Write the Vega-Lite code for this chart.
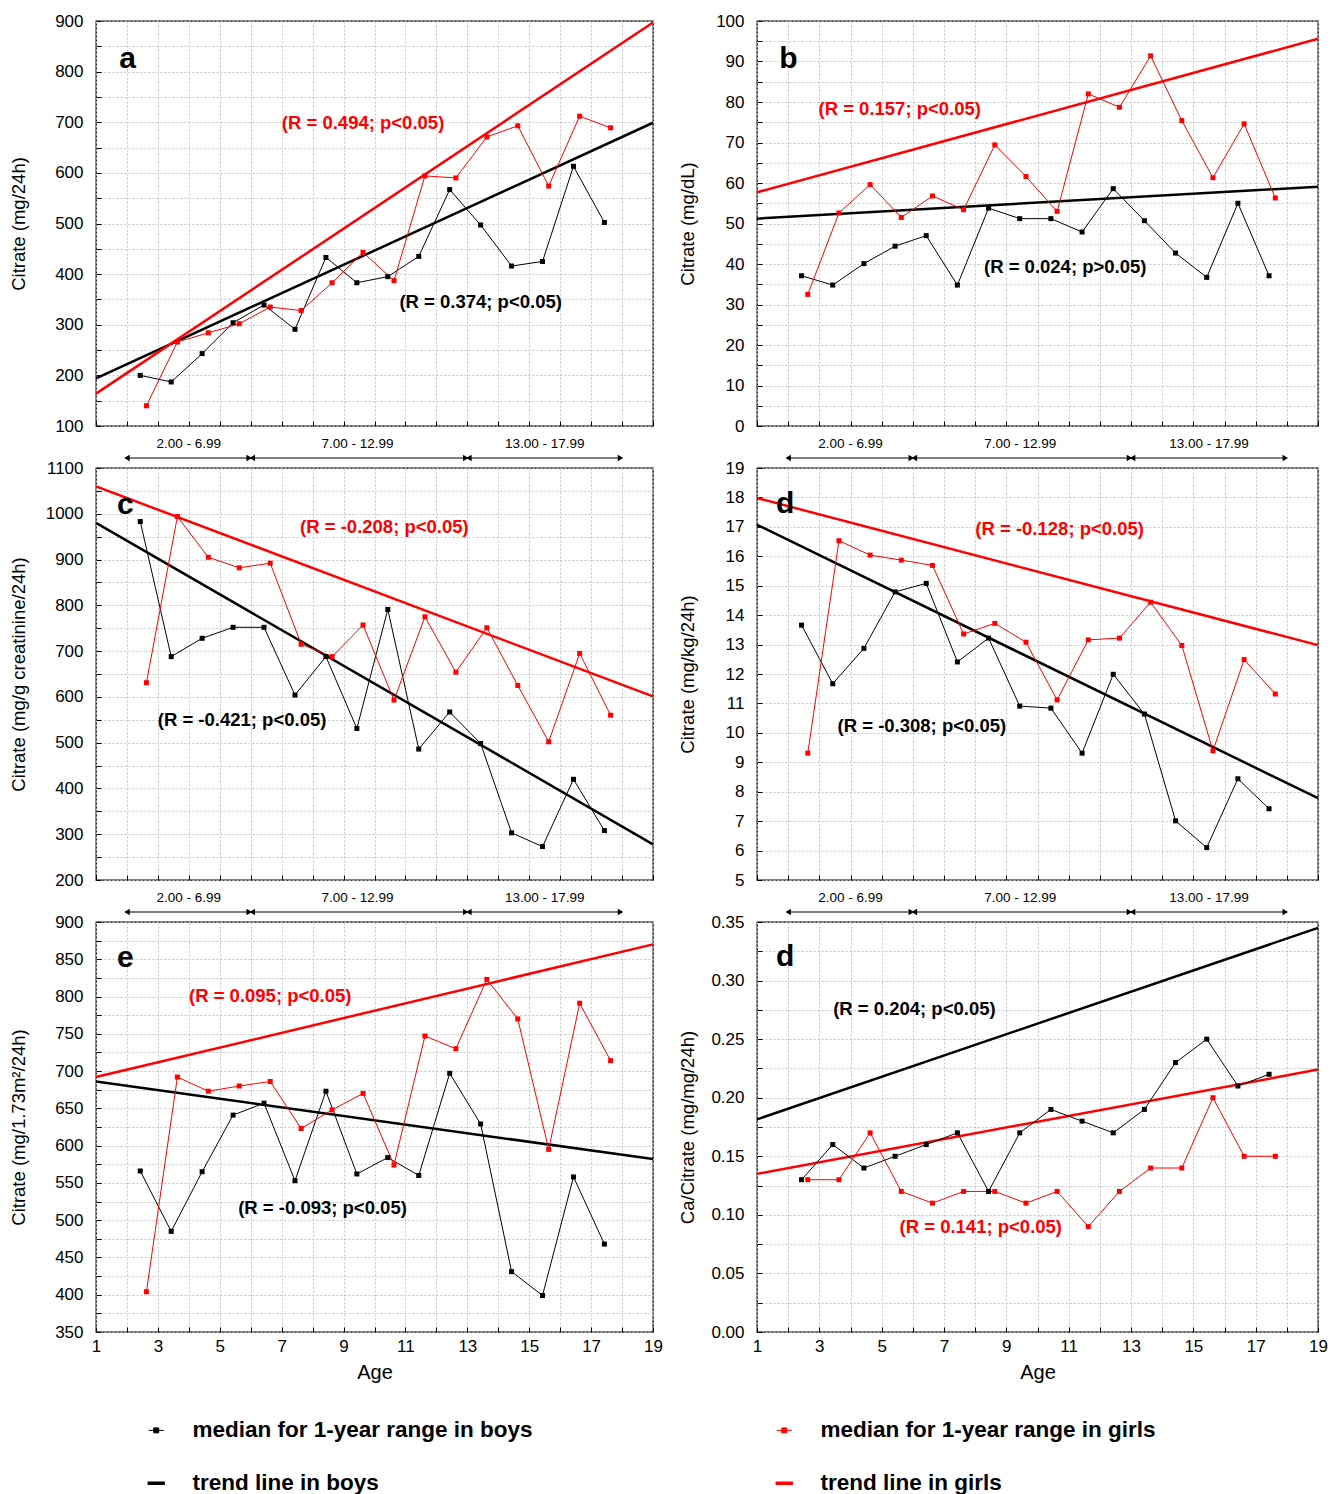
{
"$schema": "https://vega.github.io/schema/vega-lite/v6.json",
"padding": {"left": 8, "top": 11, "right": 5, "bottom": 0},
"background": "white",
"columns": 2,
"spacing": {"row": 42, "column": 104},
"bounds": "flush",
"align": "each",
"datasets": {
"med": [
{"p":"a","s":"mb","x":2.43,"y":200},{"p":"a","s":"mb","x":3.43,"y":187},{"p":"a","s":"mb","x":4.43,"y":243},{"p":"a","s":"mb","x":5.43,"y":304},{"p":"a","s":"mb","x":6.43,"y":339},{"p":"a","s":"mb","x":7.43,"y":291},{"p":"a","s":"mb","x":8.43,"y":433},{"p":"a","s":"mb","x":9.43,"y":383},{"p":"a","s":"mb","x":10.43,"y":395},{"p":"a","s":"mb","x":11.43,"y":435},{"p":"a","s":"mb","x":12.43,"y":567},{"p":"a","s":"mb","x":13.43,"y":497},{"p":"a","s":"mb","x":14.43,"y":416},{"p":"a","s":"mb","x":15.43,"y":425},{"p":"a","s":"mb","x":16.43,"y":613},{"p":"a","s":"mb","x":17.43,"y":502},
{"p":"a","s":"mg","x":2.63,"y":140},{"p":"a","s":"mg","x":3.63,"y":266},{"p":"a","s":"mg","x":4.63,"y":284},{"p":"a","s":"mg","x":5.63,"y":302},{"p":"a","s":"mg","x":6.63,"y":335},{"p":"a","s":"mg","x":7.63,"y":328},{"p":"a","s":"mg","x":8.63,"y":383},{"p":"a","s":"mg","x":9.63,"y":443},{"p":"a","s":"mg","x":10.63,"y":387},{"p":"a","s":"mg","x":11.63,"y":594},{"p":"a","s":"mg","x":12.63,"y":590},{"p":"a","s":"mg","x":13.63,"y":671},{"p":"a","s":"mg","x":14.63,"y":693},{"p":"a","s":"mg","x":15.63,"y":574},{"p":"a","s":"mg","x":16.63,"y":712},{"p":"a","s":"mg","x":17.63,"y":689},
{"p":"b","s":"mb","x":2.43,"y":37.1},{"p":"b","s":"mb","x":3.43,"y":34.8},{"p":"b","s":"mb","x":4.43,"y":40.1},{"p":"b","s":"mb","x":5.43,"y":44.4},{"p":"b","s":"mb","x":6.43,"y":47.0},{"p":"b","s":"mb","x":7.43,"y":34.8},{"p":"b","s":"mb","x":8.43,"y":53.8},{"p":"b","s":"mb","x":9.43,"y":51.2},{"p":"b","s":"mb","x":10.43,"y":51.2},{"p":"b","s":"mb","x":11.43,"y":47.9},{"p":"b","s":"mb","x":12.43,"y":58.6},{"p":"b","s":"mb","x":13.43,"y":50.7},{"p":"b","s":"mb","x":14.43,"y":42.7},{"p":"b","s":"mb","x":15.43,"y":36.7},{"p":"b","s":"mb","x":16.43,"y":55.0},{"p":"b","s":"mb","x":17.43,"y":37.1},
{"p":"b","s":"mg","x":2.63,"y":32.5},{"p":"b","s":"mg","x":3.63,"y":52.6},{"p":"b","s":"mg","x":4.63,"y":59.6},{"p":"b","s":"mg","x":5.63,"y":51.5},{"p":"b","s":"mg","x":6.63,"y":56.8},{"p":"b","s":"mg","x":7.63,"y":53.4},{"p":"b","s":"mg","x":8.63,"y":69.4},{"p":"b","s":"mg","x":9.63,"y":61.6},{"p":"b","s":"mg","x":10.63,"y":53.0},{"p":"b","s":"mg","x":11.63,"y":82.0},{"p":"b","s":"mg","x":12.63,"y":78.7},{"p":"b","s":"mg","x":13.63,"y":91.4},{"p":"b","s":"mg","x":14.63,"y":75.4},{"p":"b","s":"mg","x":15.63,"y":61.3},{"p":"b","s":"mg","x":16.63,"y":74.6},{"p":"b","s":"mg","x":17.63,"y":56.3},
{"p":"c","s":"mb","x":2.43,"y":983},{"p":"c","s":"mb","x":3.43,"y":688},{"p":"c","s":"mb","x":4.43,"y":728},{"p":"c","s":"mb","x":5.43,"y":752},{"p":"c","s":"mb","x":6.43,"y":752},{"p":"c","s":"mb","x":7.43,"y":604},{"p":"c","s":"mb","x":8.43,"y":688},{"p":"c","s":"mb","x":9.43,"y":531},{"p":"c","s":"mb","x":10.43,"y":791},{"p":"c","s":"mb","x":11.43,"y":486},{"p":"c","s":"mb","x":12.43,"y":567},{"p":"c","s":"mb","x":13.43,"y":498},{"p":"c","s":"mb","x":14.43,"y":303},{"p":"c","s":"mb","x":15.43,"y":273},{"p":"c","s":"mb","x":16.43,"y":420},{"p":"c","s":"mb","x":17.43,"y":308},
{"p":"c","s":"mg","x":2.63,"y":631},{"p":"c","s":"mg","x":3.63,"y":994},{"p":"c","s":"mg","x":4.63,"y":905},{"p":"c","s":"mg","x":5.63,"y":882},{"p":"c","s":"mg","x":6.63,"y":892},{"p":"c","s":"mg","x":7.63,"y":715},{"p":"c","s":"mg","x":8.63,"y":688},{"p":"c","s":"mg","x":9.63,"y":757},{"p":"c","s":"mg","x":10.63,"y":593},{"p":"c","s":"mg","x":11.63,"y":775},{"p":"c","s":"mg","x":12.63,"y":654},{"p":"c","s":"mg","x":13.63,"y":751},{"p":"c","s":"mg","x":14.63,"y":625},{"p":"c","s":"mg","x":15.63,"y":502},{"p":"c","s":"mg","x":16.63,"y":695},{"p":"c","s":"mg","x":17.63,"y":560},
{"p":"d","s":"mb","x":2.43,"y":13.66},{"p":"d","s":"mb","x":3.43,"y":11.67},{"p":"d","s":"mb","x":4.43,"y":12.87},{"p":"d","s":"mb","x":5.43,"y":14.79},{"p":"d","s":"mb","x":6.43,"y":15.08},{"p":"d","s":"mb","x":7.43,"y":12.41},{"p":"d","s":"mb","x":8.43,"y":13.22},{"p":"d","s":"mb","x":9.43,"y":10.91},{"p":"d","s":"mb","x":10.43,"y":10.84},{"p":"d","s":"mb","x":11.43,"y":9.31},{"p":"d","s":"mb","x":12.43,"y":11.99},{"p":"d","s":"mb","x":13.43,"y":10.64},{"p":"d","s":"mb","x":14.43,"y":7.01},{"p":"d","s":"mb","x":15.43,"y":6.10},{"p":"d","s":"mb","x":16.43,"y":8.44},{"p":"d","s":"mb","x":17.43,"y":7.42},
{"p":"d","s":"mg","x":2.63,"y":9.31},{"p":"d","s":"mg","x":3.63,"y":16.53},{"p":"d","s":"mg","x":4.63,"y":16.04},{"p":"d","s":"mg","x":5.63,"y":15.87},{"p":"d","s":"mg","x":6.63,"y":15.69},{"p":"d","s":"mg","x":7.63,"y":13.36},{"p":"d","s":"mg","x":8.63,"y":13.72},{"p":"d","s":"mg","x":9.63,"y":13.08},{"p":"d","s":"mg","x":10.63,"y":11.12},{"p":"d","s":"mg","x":11.63,"y":13.16},{"p":"d","s":"mg","x":12.63,"y":13.22},{"p":"d","s":"mg","x":13.63,"y":14.44},{"p":"d","s":"mg","x":14.63,"y":12.97},{"p":"d","s":"mg","x":15.63,"y":9.39},{"p":"d","s":"mg","x":16.63,"y":12.49},{"p":"d","s":"mg","x":17.63,"y":11.32},
{"p":"e","s":"mb","x":2.43,"y":566},{"p":"e","s":"mb","x":3.43,"y":485},{"p":"e","s":"mb","x":4.43,"y":565},{"p":"e","s":"mb","x":5.43,"y":641},{"p":"e","s":"mb","x":6.43,"y":657},{"p":"e","s":"mb","x":7.43,"y":553},{"p":"e","s":"mb","x":8.43,"y":673},{"p":"e","s":"mb","x":9.43,"y":562},{"p":"e","s":"mb","x":10.43,"y":584},{"p":"e","s":"mb","x":11.43,"y":560},{"p":"e","s":"mb","x":12.43,"y":697},{"p":"e","s":"mb","x":13.43,"y":629},{"p":"e","s":"mb","x":14.43,"y":431},{"p":"e","s":"mb","x":15.43,"y":399},{"p":"e","s":"mb","x":16.43,"y":558},{"p":"e","s":"mb","x":17.43,"y":468},
{"p":"e","s":"mg","x":2.63,"y":404},{"p":"e","s":"mg","x":3.63,"y":692},{"p":"e","s":"mg","x":4.63,"y":673},{"p":"e","s":"mg","x":5.63,"y":680},{"p":"e","s":"mg","x":6.63,"y":686},{"p":"e","s":"mg","x":7.63,"y":623},{"p":"e","s":"mg","x":8.63,"y":648},{"p":"e","s":"mg","x":9.63,"y":670},{"p":"e","s":"mg","x":10.63,"y":574},{"p":"e","s":"mg","x":11.63,"y":747},{"p":"e","s":"mg","x":12.63,"y":730},{"p":"e","s":"mg","x":13.63,"y":823},{"p":"e","s":"mg","x":14.63,"y":770},{"p":"e","s":"mg","x":15.63,"y":595},{"p":"e","s":"mg","x":16.63,"y":791},{"p":"e","s":"mg","x":17.63,"y":714},
{"p":"f","s":"mb","x":2.43,"y":0.13},{"p":"f","s":"mb","x":3.43,"y":0.16},{"p":"f","s":"mb","x":4.43,"y":0.14},{"p":"f","s":"mb","x":5.43,"y":0.15},{"p":"f","s":"mb","x":6.43,"y":0.16},{"p":"f","s":"mb","x":7.43,"y":0.17},{"p":"f","s":"mb","x":8.43,"y":0.12},{"p":"f","s":"mb","x":9.43,"y":0.17},{"p":"f","s":"mb","x":10.43,"y":0.19},{"p":"f","s":"mb","x":11.43,"y":0.18},{"p":"f","s":"mb","x":12.43,"y":0.17},{"p":"f","s":"mb","x":13.43,"y":0.19},{"p":"f","s":"mb","x":14.43,"y":0.23},{"p":"f","s":"mb","x":15.43,"y":0.25},{"p":"f","s":"mb","x":16.43,"y":0.21},{"p":"f","s":"mb","x":17.43,"y":0.22},
{"p":"f","s":"mg","x":2.63,"y":0.13},{"p":"f","s":"mg","x":3.63,"y":0.13},{"p":"f","s":"mg","x":4.63,"y":0.17},{"p":"f","s":"mg","x":5.63,"y":0.12},{"p":"f","s":"mg","x":6.63,"y":0.11},{"p":"f","s":"mg","x":7.63,"y":0.12},{"p":"f","s":"mg","x":8.63,"y":0.12},{"p":"f","s":"mg","x":9.63,"y":0.11},{"p":"f","s":"mg","x":10.63,"y":0.12},{"p":"f","s":"mg","x":11.63,"y":0.09},{"p":"f","s":"mg","x":12.63,"y":0.12},{"p":"f","s":"mg","x":13.63,"y":0.14},{"p":"f","s":"mg","x":14.63,"y":0.14},{"p":"f","s":"mg","x":15.63,"y":0.20},{"p":"f","s":"mg","x":16.63,"y":0.15},{"p":"f","s":"mg","x":17.63,"y":0.15}
],
"trend": [
{"p":"a","s":"tb","x":1,"y":194},{"p":"a","s":"tb","x":19,"y":699},{"p":"a","s":"tg","x":1,"y":164},{"p":"a","s":"tg","x":19,"y":897},
{"p":"b","s":"tb","x":1,"y":51.2},{"p":"b","s":"tb","x":19,"y":59.1},{"p":"b","s":"tg","x":1,"y":57.7},{"p":"b","s":"tg","x":19,"y":95.6},
{"p":"c","s":"tb","x":1,"y":980},{"p":"c","s":"tb","x":19,"y":278},{"p":"c","s":"tg","x":1,"y":1060},{"p":"c","s":"tg","x":19,"y":601},
{"p":"d","s":"tb","x":1,"y":17.07},{"p":"d","s":"tb","x":19,"y":7.78},{"p":"d","s":"tg","x":1,"y":17.98},{"p":"d","s":"tg","x":19,"y":12.98},
{"p":"e","s":"tb","x":1,"y":686},{"p":"e","s":"tb","x":19,"y":582},{"p":"e","s":"tg","x":1,"y":692},{"p":"e","s":"tg","x":19,"y":870},
{"p":"f","s":"tb","x":1,"y":0.1815},{"p":"f","s":"tb","x":19,"y":0.345},{"p":"f","s":"tg","x":1,"y":0.135},{"p":"f","s":"tg","x":19,"y":0.224}
],
"ann": [
{"p":"a","k":"g","x":9.63,"y":699,"t":"(R = 0.494; p<0.05)"},{"p":"a","k":"b","x":13.43,"y":345,"t":"(R = 0.374; p<0.05)"},{"p":"a","k":"l","x":2.02,"y":824,"t":"a"},
{"p":"b","k":"g","x":5.58,"y":78.3,"t":"(R = 0.157; p<0.05)"},{"p":"b","k":"b","x":10.89,"y":39.3,"t":"(R = 0.024; p>0.05)"},{"p":"b","k":"l","x":2.01,"y":90.5,"t":"b"},
{"p":"c","k":"g","x":10.32,"y":971,"t":"(R = -0.208; p<0.05)"},{"p":"c","k":"b","x":5.72,"y":550,"t":"(R = -0.421; p<0.05)"},{"p":"c","k":"l","x":1.95,"y":1020,"t":"c"},
{"p":"d","k":"g","x":10.71,"y":16.92,"t":"(R = -0.128; p<0.05)"},{"p":"d","k":"b","x":6.29,"y":10.24,"t":"(R = -0.308; p<0.05)"},{"p":"d","k":"l","x":1.9,"y":17.77,"t":"d"},
{"p":"e","k":"g","x":6.63,"y":801,"t":"(R = 0.095; p<0.05)"},{"p":"e","k":"b","x":8.32,"y":517,"t":"(R = -0.093; p<0.05)"},{"p":"e","k":"l","x":1.95,"y":852,"t":"e"},
{"p":"f","k":"b","x":6.05,"y":0.2756,"t":"(R = 0.204; p<0.05)"},{"p":"f","k":"g","x":8.18,"y":0.0894,"t":"(R = 0.141; p<0.05)"},{"p":"f","k":"l","x":1.9,"y":0.32,"t":"d"}
],
"ranges": [
{"lo":2.0,"hi":5.95,"mid":4.0,"label":"2.00 - 6.99"},
{"lo":6.05,"hi":12.95,"mid":9.45,"label":"7.00 - 12.99"},
{"lo":13.05,"hi":17.95,"mid":15.5,"label":"13.00 - 17.99"}
]
},
"concat": [
{
"width": 557, "height": 405,
"encoding": {
"x": {"field":"x","type":"quantitative","scale":{"domain":[1,19],"nice":false,"zero":false},"axis":{"values":[1,2,3,4,5,6,7,8,9,10,11,12,13,14,15,16,17,18,19],"labels":false,"title":null}},
"y": {"field":"y","type":"quantitative","scale":{"domain":[100,900],"nice":false,"zero":false},"axis":{"values":[100,150,200,250,300,350,400,450,500,550,600,650,700,750,800,850,900],"format":"d","labelExpr":"datum.value % 100 === 0 ? datum.label : ''","title":"Citrate (mg/24h)","titleX":-68}}
},
"layer": [
{"data":{"name":"trend"},"transform":[{"filter":"datum.p==='a'"}],"mark":{"type":"line","strokeWidth":2.5},"encoding":{"color":{"field":"s","type":"nominal","scale":{"domain":["mb","mg","tb","tg"],"range":["#000000","#ff0000","#000000","#ff0000"]},
 "legend":{"orient":"none","legendX":49,"legendY":1398,"columns":2,"title":null,"direction":"horizontal",
 "labelExpr":"datum.value==='mb' ? 'median for 1-year range in boys' : datum.value==='mg' ? 'median for 1-year range in girls' : datum.value==='tb' ? 'trend line in boys' : 'trend line in girls'",
 "labelFont":"Liberation Sans, Arial, sans-serif","labelFontSize":22.5,"labelFontWeight":"bold","labelColor":"#000","labelLimit":700,"labelOffset":25,
 "symbolSize":400,"columnPadding":235,"rowPadding":30,
 "encode":{"symbols":{"update":{
  "shape":{"signal":"datum.value==='mb'||datum.value==='mg' ? 'M-1,0L1,0M-0.33,-0.33L0.33,-0.33L0.33,0.33L-0.33,0.33Z' : 'stroke'"},
  "size":{"signal":"datum.value==='mb'||datum.value==='mg' ? 225 : 300"},
  "strokeWidth":{"signal":"datum.value==='mb'||datum.value==='mg' ? 1 : 3.5"},
  "stroke":{"scale":"color","field":"value"},
  "fill":{"scale":"color","field":"value"},
  "opacity":{"value":1}}}}}}}},
{"data":{"name":"med"},"transform":[{"filter":"datum.p==='a'"}],"mark":{"type":"line","strokeWidth":1},"encoding":{"color":{"field":"s","type":"nominal"}}},
{"data":{"name":"med"},"transform":[{"filter":"datum.p==='a'"}],"mark":{"type":"point","shape":"square","filled":true,"size":25,"opacity":1},"encoding":{"color":{"field":"s","type":"nominal"}}},
{"data":{"name":"ann"},"transform":[{"filter":"datum.p==='a' && datum.k!=='l'"}],"mark":{"type":"text","fontSize":18.5,"fontWeight":"bold"},"encoding":{"text":{"field":"t"},"color":{"condition":{"test":"datum.k==='g'","value":"#ff0000"},"value":"#000000"}}},
{"data":{"name":"ann"},"transform":[{"filter":"datum.p==='a' && datum.k==='l'"}],"mark":{"type":"text","fontSize":30,"fontWeight":"bold","color":"#000"},"encoding":{"text":{"field":"t"}}},
{"data":{"name":"ranges"},"mark":{"type":"text","dy":18,"fontSize":13.5,"color":"#000"},"encoding":{"x":{"field":"mid","type":"quantitative"},"y":{"value":"height"},"text":{"field":"label"}}},
{"data":{"name":"ranges"},"mark":{"type":"rule","yOffset":32,"strokeWidth":1.2,"color":"#000"},"encoding":{"x":{"field":"lo","type":"quantitative"},"x2":{"field":"hi"},"y":{"value":"height"}}},
{"data":{"name":"ranges"},"mark":{"type":"point","shape":"triangle-left","filled":true,"size":40,"yOffset":32,"color":"#000","opacity":1},"encoding":{"x":{"field":"lo","type":"quantitative"},"y":{"value":"height"}}},
{"data":{"name":"ranges"},"mark":{"type":"point","shape":"triangle-right","filled":true,"size":40,"yOffset":32,"color":"#000","opacity":1},"encoding":{"x":{"field":"hi","type":"quantitative"},"y":{"value":"height"}}}
]
},
{
"width": 561, "height": 405,
"encoding": {
"x": {"field":"x","type":"quantitative","scale":{"domain":[1,19],"nice":false,"zero":false},"axis":{"values":[1,2,3,4,5,6,7,8,9,10,11,12,13,14,15,16,17,18,19],"labels":false,"title":null}},
"y": {"field":"y","type":"quantitative","scale":{"domain":[0,100],"nice":false,"zero":false},"axis":{"values":[0,5,10,15,20,25,30,35,40,45,50,55,60,65,70,75,80,85,90,95,100],"format":"d","labelExpr":"datum.value % 10 === 0 ? datum.label : ''","title":"Citrate (mg/dL)","titleX":-60}}
},
"layer": [
{"data":{"name":"trend"},"transform":[{"filter":"datum.p==='b'"}],"mark":{"type":"line","strokeWidth":2.5},"encoding":{"color":{"field":"s","type":"nominal"}}},
{"data":{"name":"med"},"transform":[{"filter":"datum.p==='b'"}],"mark":{"type":"line","strokeWidth":1},"encoding":{"color":{"field":"s","type":"nominal"}}},
{"data":{"name":"med"},"transform":[{"filter":"datum.p==='b'"}],"mark":{"type":"point","shape":"square","filled":true,"size":25,"opacity":1},"encoding":{"color":{"field":"s","type":"nominal"}}},
{"data":{"name":"ann"},"transform":[{"filter":"datum.p==='b' && datum.k!=='l'"}],"mark":{"type":"text","fontSize":18.5,"fontWeight":"bold"},"encoding":{"text":{"field":"t"},"color":{"condition":{"test":"datum.k==='g'","value":"#ff0000"},"value":"#000000"}}},
{"data":{"name":"ann"},"transform":[{"filter":"datum.p==='b' && datum.k==='l'"}],"mark":{"type":"text","fontSize":30,"fontWeight":"bold","color":"#000"},"encoding":{"text":{"field":"t"}}},
{"data":{"name":"ranges"},"mark":{"type":"text","dy":18,"fontSize":13.5,"color":"#000"},"encoding":{"x":{"field":"mid","type":"quantitative"},"y":{"value":"height"},"text":{"field":"label"}}},
{"data":{"name":"ranges"},"mark":{"type":"rule","yOffset":32,"strokeWidth":1.2,"color":"#000"},"encoding":{"x":{"field":"lo","type":"quantitative"},"x2":{"field":"hi"},"y":{"value":"height"}}},
{"data":{"name":"ranges"},"mark":{"type":"point","shape":"triangle-left","filled":true,"size":40,"yOffset":32,"color":"#000","opacity":1},"encoding":{"x":{"field":"lo","type":"quantitative"},"y":{"value":"height"}}},
{"data":{"name":"ranges"},"mark":{"type":"point","shape":"triangle-right","filled":true,"size":40,"yOffset":32,"color":"#000","opacity":1},"encoding":{"x":{"field":"hi","type":"quantitative"},"y":{"value":"height"}}}
]
},
{
"width": 557, "height": 412,
"encoding": {
"x": {"field":"x","type":"quantitative","scale":{"domain":[1,19],"nice":false,"zero":false},"axis":{"values":[1,2,3,4,5,6,7,8,9,10,11,12,13,14,15,16,17,18,19],"labels":false,"title":null}},
"y": {"field":"y","type":"quantitative","scale":{"domain":[200,1100],"nice":false,"zero":false},"axis":{"values":[200,250,300,350,400,450,500,550,600,650,700,750,800,850,900,950,1000,1050,1100],"format":"d","labelExpr":"datum.value % 100 === 0 ? datum.label : ''","title":"Citrate (mg/g creatinine/24h)","titleX":-68}}
},
"layer": [
{"data":{"name":"trend"},"transform":[{"filter":"datum.p==='c'"}],"mark":{"type":"line","strokeWidth":2.5},"encoding":{"color":{"field":"s","type":"nominal"}}},
{"data":{"name":"med"},"transform":[{"filter":"datum.p==='c'"}],"mark":{"type":"line","strokeWidth":1},"encoding":{"color":{"field":"s","type":"nominal"}}},
{"data":{"name":"med"},"transform":[{"filter":"datum.p==='c'"}],"mark":{"type":"point","shape":"square","filled":true,"size":25,"opacity":1},"encoding":{"color":{"field":"s","type":"nominal"}}},
{"data":{"name":"ann"},"transform":[{"filter":"datum.p==='c' && datum.k!=='l'"}],"mark":{"type":"text","fontSize":18.5,"fontWeight":"bold"},"encoding":{"text":{"field":"t"},"color":{"condition":{"test":"datum.k==='g'","value":"#ff0000"},"value":"#000000"}}},
{"data":{"name":"ann"},"transform":[{"filter":"datum.p==='c' && datum.k==='l'"}],"mark":{"type":"text","fontSize":30,"fontWeight":"bold","color":"#000"},"encoding":{"text":{"field":"t"}}},
{"data":{"name":"ranges"},"mark":{"type":"text","dy":18,"fontSize":13.5,"color":"#000"},"encoding":{"x":{"field":"mid","type":"quantitative"},"y":{"value":"height"},"text":{"field":"label"}}},
{"data":{"name":"ranges"},"mark":{"type":"rule","yOffset":32,"strokeWidth":1.2,"color":"#000"},"encoding":{"x":{"field":"lo","type":"quantitative"},"x2":{"field":"hi"},"y":{"value":"height"}}},
{"data":{"name":"ranges"},"mark":{"type":"point","shape":"triangle-left","filled":true,"size":40,"yOffset":32,"color":"#000","opacity":1},"encoding":{"x":{"field":"lo","type":"quantitative"},"y":{"value":"height"}}},
{"data":{"name":"ranges"},"mark":{"type":"point","shape":"triangle-right","filled":true,"size":40,"yOffset":32,"color":"#000","opacity":1},"encoding":{"x":{"field":"hi","type":"quantitative"},"y":{"value":"height"}}}
]
},
{
"width": 561, "height": 412,
"encoding": {
"x": {"field":"x","type":"quantitative","scale":{"domain":[1,19],"nice":false,"zero":false},"axis":{"values":[1,2,3,4,5,6,7,8,9,10,11,12,13,14,15,16,17,18,19],"labels":false,"title":null}},
"y": {"field":"y","type":"quantitative","scale":{"domain":[5,19],"nice":false,"zero":false},"axis":{"values":[5,5.5,6,6.5,7,7.5,8,8.5,9,9.5,10,10.5,11,11.5,12,12.5,13,13.5,14,14.5,15,15.5,16,16.5,17,17.5,18,18.5,19],"format":"d","labelExpr":"datum.value % 1 === 0 ? datum.label : ''","title":"Citrate (mg/kg/24h)","titleX":-60}}
},
"layer": [
{"data":{"name":"trend"},"transform":[{"filter":"datum.p==='d'"}],"mark":{"type":"line","strokeWidth":2.5},"encoding":{"color":{"field":"s","type":"nominal"}}},
{"data":{"name":"med"},"transform":[{"filter":"datum.p==='d'"}],"mark":{"type":"line","strokeWidth":1},"encoding":{"color":{"field":"s","type":"nominal"}}},
{"data":{"name":"med"},"transform":[{"filter":"datum.p==='d'"}],"mark":{"type":"point","shape":"square","filled":true,"size":25,"opacity":1},"encoding":{"color":{"field":"s","type":"nominal"}}},
{"data":{"name":"ann"},"transform":[{"filter":"datum.p==='d' && datum.k!=='l'"}],"mark":{"type":"text","fontSize":18.5,"fontWeight":"bold"},"encoding":{"text":{"field":"t"},"color":{"condition":{"test":"datum.k==='g'","value":"#ff0000"},"value":"#000000"}}},
{"data":{"name":"ann"},"transform":[{"filter":"datum.p==='d' && datum.k==='l'"}],"mark":{"type":"text","fontSize":30,"fontWeight":"bold","color":"#000"},"encoding":{"text":{"field":"t"}}},
{"data":{"name":"ranges"},"mark":{"type":"text","dy":18,"fontSize":13.5,"color":"#000"},"encoding":{"x":{"field":"mid","type":"quantitative"},"y":{"value":"height"},"text":{"field":"label"}}},
{"data":{"name":"ranges"},"mark":{"type":"rule","yOffset":32,"strokeWidth":1.2,"color":"#000"},"encoding":{"x":{"field":"lo","type":"quantitative"},"x2":{"field":"hi"},"y":{"value":"height"}}},
{"data":{"name":"ranges"},"mark":{"type":"point","shape":"triangle-left","filled":true,"size":40,"yOffset":32,"color":"#000","opacity":1},"encoding":{"x":{"field":"lo","type":"quantitative"},"y":{"value":"height"}}},
{"data":{"name":"ranges"},"mark":{"type":"point","shape":"triangle-right","filled":true,"size":40,"yOffset":32,"color":"#000","opacity":1},"encoding":{"x":{"field":"hi","type":"quantitative"},"y":{"value":"height"}}}
]
},
{
"width": 557, "height": 410,
"encoding": {
"x": {"field":"x","type":"quantitative","scale":{"domain":[1,19],"nice":false,"zero":false},"axis":{"values":[1,2,3,4,5,6,7,8,9,10,11,12,13,14,15,16,17,18,19],"format":"d","labelExpr":"datum.value % 2 === 1 ? datum.label : ''","labelFlush":false,"labelPadding":11,"title":"Age","titleFontSize":20,"titlePadding":8}},
"y": {"field":"y","type":"quantitative","scale":{"domain":[350,900],"nice":false,"zero":false},"axis":{"values":[350,375,400,425,450,475,500,525,550,575,600,625,650,675,700,725,750,775,800,825,850,875,900],"format":"d","labelExpr":"datum.value % 50 === 0 ? datum.label : ''","title":"Citrate (mg/1.73m²/24h)","titleX":-68}}
},
"layer": [
{"data":{"name":"trend"},"transform":[{"filter":"datum.p==='e'"}],"mark":{"type":"line","strokeWidth":2.5},"encoding":{"color":{"field":"s","type":"nominal"}}},
{"data":{"name":"med"},"transform":[{"filter":"datum.p==='e'"}],"mark":{"type":"line","strokeWidth":1},"encoding":{"color":{"field":"s","type":"nominal"}}},
{"data":{"name":"med"},"transform":[{"filter":"datum.p==='e'"}],"mark":{"type":"point","shape":"square","filled":true,"size":25,"opacity":1},"encoding":{"color":{"field":"s","type":"nominal"}}},
{"data":{"name":"ann"},"transform":[{"filter":"datum.p==='e' && datum.k!=='l'"}],"mark":{"type":"text","fontSize":18.5,"fontWeight":"bold"},"encoding":{"text":{"field":"t"},"color":{"condition":{"test":"datum.k==='g'","value":"#ff0000"},"value":"#000000"}}},
{"data":{"name":"ann"},"transform":[{"filter":"datum.p==='e' && datum.k==='l'"}],"mark":{"type":"text","fontSize":30,"fontWeight":"bold","color":"#000"},"encoding":{"text":{"field":"t"}}}
]
},
{
"width": 561, "height": 410,
"encoding": {
"x": {"field":"x","type":"quantitative","scale":{"domain":[1,19],"nice":false,"zero":false},"axis":{"values":[1,2,3,4,5,6,7,8,9,10,11,12,13,14,15,16,17,18,19],"format":"d","labelExpr":"datum.value % 2 === 1 ? datum.label : ''","labelFlush":false,"labelPadding":11,"title":"Age","titleFontSize":20,"titlePadding":8}},
"y": {"field":"y","type":"quantitative","scale":{"domain":[0,0.35],"nice":false,"zero":false},"axis":{"values":[0,0.025,0.05,0.075,0.1,0.125,0.15,0.175,0.2,0.225,0.25,0.275,0.3,0.325,0.35],"labelExpr":"round(datum.value*1000) % 50 === 0 ? format(datum.value, '.2f') : ''","title":"Ca/Citrate (mg/mg/24h)","titleX":-60}}
},
"layer": [
{"data":{"name":"trend"},"transform":[{"filter":"datum.p==='f'"}],"mark":{"type":"line","strokeWidth":2.5},"encoding":{"color":{"field":"s","type":"nominal"}}},
{"data":{"name":"med"},"transform":[{"filter":"datum.p==='f'"}],"mark":{"type":"line","strokeWidth":1},"encoding":{"color":{"field":"s","type":"nominal"}}},
{"data":{"name":"med"},"transform":[{"filter":"datum.p==='f'"}],"mark":{"type":"point","shape":"square","filled":true,"size":25,"opacity":1},"encoding":{"color":{"field":"s","type":"nominal"}}},
{"data":{"name":"ann"},"transform":[{"filter":"datum.p==='f' && datum.k!=='l'"}],"mark":{"type":"text","fontSize":18.5,"fontWeight":"bold"},"encoding":{"text":{"field":"t"},"color":{"condition":{"test":"datum.k==='g'","value":"#ff0000"},"value":"#000000"}}},
{"data":{"name":"ann"},"transform":[{"filter":"datum.p==='f' && datum.k==='l'"}],"mark":{"type":"text","fontSize":30,"fontWeight":"bold","color":"#000"},"encoding":{"text":{"field":"t"}}}
]
}
],
"config": {
"font": "Liberation Sans, Arial, sans-serif",
"view": {"stroke": "#000", "strokeWidth": 1.3},
"axis": {"grid": true, "gridColor": "#c4c4c4", "gridDash": [2,2], "gridWidth": 1, "domain": false, "ticks": true, "tickColor": "#000", "tickSize": -5, "labelFont": "Liberation Sans, Arial, sans-serif", "labelFontSize": 17, "labelColor": "#000", "labelPadding": 18, "titleFont": "Liberation Sans, Arial, sans-serif", "titleFontSize": 18.5, "titleFontWeight": "normal", "titleColor": "#000"},
"text": {"font": "Liberation Sans, Arial, sans-serif"}
}
}
